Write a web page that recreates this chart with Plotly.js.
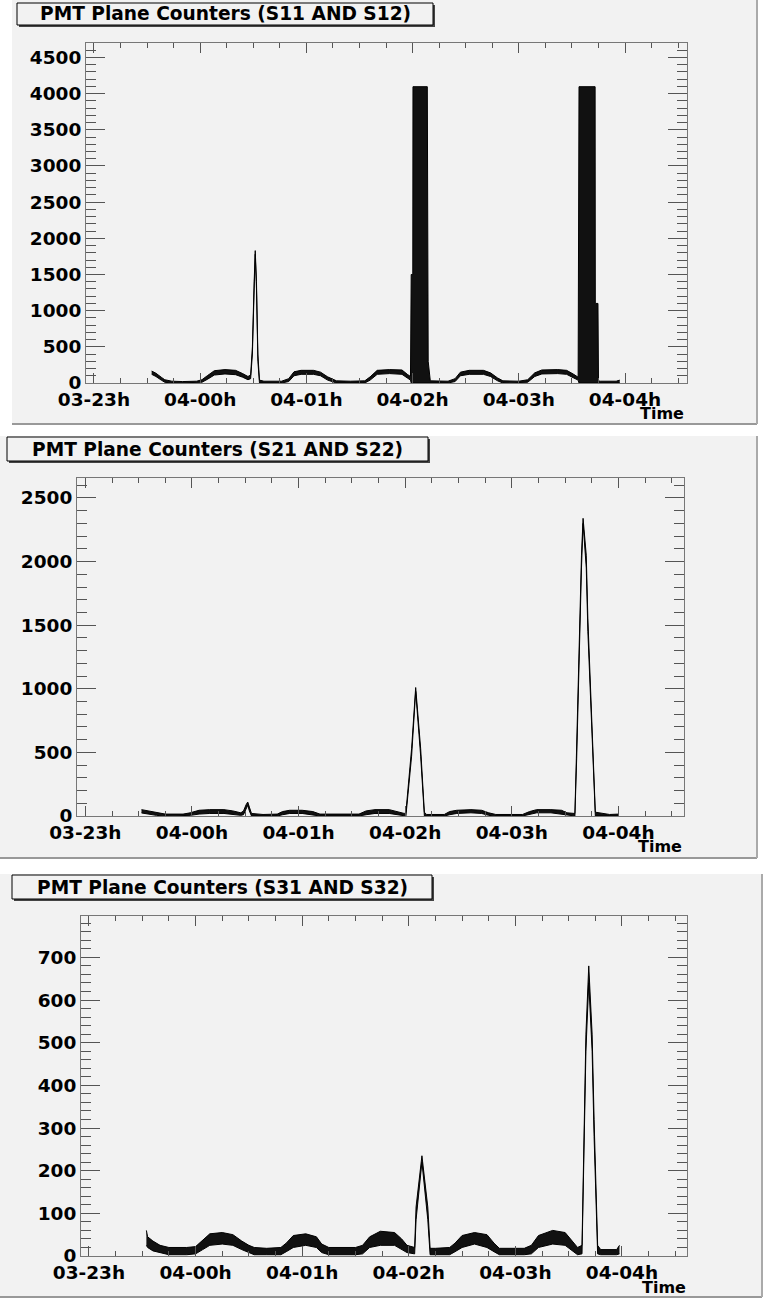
<!DOCTYPE html>
<html>
<head>
<meta charset="utf-8">
<script src="https://cdn.plot.ly/plotly-3.0.1.min.js"></script>
<style>
  body { margin: 0; background: #fff; }
  #graph { width: 763px; height: 1299px; }
</style>
</head>
<body>
<div id="graph"></div>
<script>
// time axis: minutes after 03-23h
// panel 1 : S11 AND S12 (saturates at 4096)
var p1Min = [32.6, 35, 38, 40, 44, 50, 58, 61, 64, 68, 74, 80, 84, 87, 88.5, 89.5, 90.5, 91.1, 91.8, 92.6, 93.5, 96, 106, 110, 113, 117, 124, 128, 132, 137, 145, 153, 156, 160, 167, 174, 177, 178.8, 179.2, 180.1, 180.2, 188.3, 188.8, 190, 200, 204, 207, 212, 220, 224, 228, 231, 240, 245, 249, 253, 262, 267, 271, 273.5, 274, 283.1, 283.2, 284.7, 285, 286, 295, 297];
var p1Lo  = [120, 90, 40, 10, 0, 0, 0, 10, 50, 110, 125, 115, 80, 45, 60, 400, 1300, 1780, 1300, 300, 0, 0, 0, 20, 100, 120, 120, 100, 40, 0, 0, 0, 40, 120, 130, 120, 70, 40, 0, 0, 0, 0, 0, 0, 0, 20, 100, 120, 120, 90, 30, 0, 0, 10, 90, 125, 130, 120, 70, 40, 0, 0, 0, 0, 0, 0, 0, 0];
var p1Hi  = [165, 135, 80, 45, 25, 20, 25, 45, 100, 170, 185, 175, 130, 90, 110, 500, 1400, 1830, 1400, 400, 40, 25, 25, 60, 155, 175, 175, 150, 85, 30, 25, 30, 85, 175, 185, 180, 120, 90, 1500, 1500, 4096, 4096, 300, 30, 25, 60, 150, 175, 175, 140, 70, 30, 25, 45, 140, 180, 185, 175, 120, 80, 4096, 4096, 1100, 1100, 30, 25, 25, 40];

// panel 2 : S21 AND S22
var p2Min = [31.6, 35, 40, 45, 55, 59, 64, 70, 78, 83, 87.5, 89, 90.5, 91.4, 92.3, 93.5, 100, 108, 111, 115, 122, 128, 132, 145, 154, 158, 163, 171, 176, 179.5, 180.4, 183.6, 185.9, 188.7, 190.8, 192, 202, 205, 209, 217, 223, 227, 231, 246, 250, 254, 262, 268, 271, 275.5, 276.5, 278.1, 279.2, 280.1, 281.9, 282.8, 285.5, 287, 295, 300];
var p2Lo  = [24, 15, 5, 0, 0, 5, 15, 20, 20, 15, 5, 10, 50, 85, 40, 0, 0, 0, 10, 20, 20, 10, 0, 0, 0, 10, 20, 20, 10, 0, 0, 470, 980, 470, 0, 0, 0, 10, 20, 25, 20, 5, 0, 0, 10, 25, 25, 15, 5, 0, 450, 1450, 1950, 2300, 1950, 1450, 450, 0, 0, 0];
var p2Hi  = [50, 40, 25, 15, 15, 25, 45, 50, 50, 40, 25, 40, 90, 110, 70, 20, 12, 15, 35, 45, 45, 35, 15, 12, 15, 40, 50, 50, 35, 20, 30, 530, 1010, 530, 30, 12, 12, 35, 45, 50, 45, 25, 12, 12, 35, 50, 50, 45, 25, 20, 550, 1550, 2050, 2340, 2050, 1550, 550, 30, 12, 15];

// panel 3 : S31 AND S32
var p3Min = [32.3, 33, 36, 40, 45, 55, 60, 64, 68, 75, 81, 86, 90, 93, 100, 108, 111, 115, 122, 128, 131, 135, 150, 154, 158, 164, 172, 176, 179, 183.3, 184.1, 187.4, 190.7, 192, 195, 203, 206, 210, 217, 224, 228, 231, 245, 249, 253, 261, 268, 272, 275, 277.5, 278.8, 279.7, 281.3, 283.2, 284.3, 286.3, 288, 297, 298.6];
var p3Lo  = [25, 20, 12, 8, 3, 3, 5, 15, 25, 28, 25, 15, 8, 3, 3, 3, 10, 20, 25, 20, 8, 3, 3, 5, 20, 25, 25, 15, 8, 5, 85, 220, 85, 3, 3, 3, 10, 20, 28, 20, 10, 3, 3, 5, 20, 28, 25, 12, 3, 5, 280, 480, 640, 480, 280, 5, 3, 3, 5];
var p3Hi  = [60, 45, 35, 25, 20, 20, 22, 38, 52, 55, 50, 35, 25, 20, 18, 20, 30, 48, 52, 45, 28, 20, 20, 25, 45, 58, 55, 40, 25, 20, 115, 235, 115, 18, 18, 20, 30, 48, 55, 50, 30, 18, 18, 25, 48, 60, 55, 35, 20, 25, 320, 520, 680, 520, 320, 25, 15, 15, 25];

var titles = ["PMT Plane Counters (S11 AND S12)", "PMT Plane Counters (S21 AND S22)", "PMT Plane Counters (S31 AND S32)"];
var yMax = [4700, 2657, 797];
var yMajor = [500, 500, 100];
var yMinor = [100, 100, 20];

var W = 763, H = 1299;
function px(x) { return x / W; }
function py(y) { return 1 - y / H; }

// minutes after 03-23h -> date string
function toDate(m) {
    var d = new Date(Date.UTC(2006, 6, 3, 23, 0, 0) + m * 60000);
    return d.toISOString().replace("T", " ").slice(0, 19);
}

var tickFont = {family: "DejaVu Sans", size: 18.5, weight: "bold", color: "#000"};
var bg = "#f2f2f2";

// pixel boxes of the three frames [left, right, top, bottom] and x range in minutes
var frames = [
    {l: 86, r: 687, t: 43, b: 383, x0: -4.5, x1: 335.0},
    {l: 77, r: 684, t: 478, b: 816, x0: -4.7, x1: 336.9},
    {l: 81, r: 687, t: 916, b: 1256, x0: -4.5, x1: 336.6}
];

var series = [[p1Min, p1Lo, p1Hi], [p2Min, p2Lo, p2Hi], [p3Min, p3Lo, p3Hi]];
var data = [];
var layout = {
    width: W, height: H,
    margin: {l: 0, r: 0, t: 0, b: 0},
    paper_bgcolor: "#fff",
    plot_bgcolor: bg,
    showlegend: false,
    shapes: [],
    annotations: []
};

series.forEach(function (s, i) {
    var n = i + 1;
    var xs = s[0].map(toDate);
    var xa = n === 1 ? "x" : "x" + n;
    var ya = n === 1 ? "y" : "y" + n;
    data.push({x: xs, y: s[1], xaxis: xa, yaxis: ya, type: "scatter", mode: "lines",
               line: {color: "#000", width: 1}, hoverinfo: "skip"});
    data.push({x: xs, y: s[2], xaxis: xa, yaxis: ya, type: "scatter", mode: "lines",
               fill: "tonexty", fillcolor: "#111", line: {color: "#000", width: 1}, hoverinfo: "skip"});

    var f = frames[i];
    layout["xaxis" + (n === 1 ? "" : n)] = {
        domain: [px(f.l), px(f.r)],
        anchor: ya,
        type: "date",
        range: [toDate(f.x0), toDate(f.x1)],
        tickformat: "%d-%Hh",
        tick0: toDate(0), dtick: 3600000,
        ticks: "inside", ticklen: 10, tickcolor: "#555", tickwidth: 1,
        minor: {tick0: toDate(0), dtick: 900000, ticks: "inside", ticklen: 5, tickcolor: "#555", showgrid: false},
        showline: true, linecolor: "#777", linewidth: 1, mirror: "allticks",
        showgrid: false, zeroline: false,
        tickfont: tickFont
    };
    layout["yaxis" + (n === 1 ? "" : n)] = {
        domain: [py(f.b), py(f.t)],
        anchor: xa,
        range: [0, yMax[i]],
        tick0: 0, dtick: yMajor[i],
        ticks: "inside", ticklen: 19, tickcolor: "#555", tickwidth: 1,
        minor: {dtick: yMinor[i], ticks: "inside", ticklen: 10, tickcolor: "#555", showgrid: false},
        showline: true, linecolor: "#777", linewidth: 1, mirror: "allticks",
        showgrid: false, zeroline: false,
        tickfont: tickFont
    };
});

// canvas pads: [left, right, top, bottom]
var pads = [[12, 757, 0, 424], [0, 757, 436, 858], [0, 762, 874, 1297]];
pads.forEach(function (p) {
    layout.shapes.push({type: "rect", xref: "paper", yref: "paper", layer: "below",
        x0: px(p[0]), x1: px(p[1]), y0: py(p[3]), y1: py(p[2]), fillcolor: bg, line: {width: 0}});
    layout.shapes.push({type: "line", xref: "paper", yref: "paper",
        x0: px(p[0]), x1: px(p[1]), y0: py(p[3]), y1: py(p[3]), line: {color: "#999", width: 2}});
    layout.shapes.push({type: "line", xref: "paper", yref: "paper",
        x0: px(p[1]), x1: px(p[1]), y0: py(p[3]), y1: py(p[2]), line: {color: "#aaa", width: 2}});
});

// title boxes [left, right, top, bottom]
var tboxes = [[17, 433, 3, 25], [7, 428, 437, 461], [12, 432, 875, 899]];
tboxes.forEach(function (b, i) {
    layout.shapes.push({type: "rect", xref: "paper", yref: "paper",
        x0: px(b[0] + 2), x1: px(b[1] + 2), y0: py(b[3] + 2), y1: py(b[2] + 2),
        fillcolor: "#444", line: {width: 0}});
    layout.shapes.push({type: "rect", xref: "paper", yref: "paper",
        x0: px(b[0]), x1: px(b[1]), y0: py(b[3]), y1: py(b[2]),
        fillcolor: bg, line: {color: "#000", width: 1}});
    layout.annotations.push({xref: "paper", yref: "paper", x: px((b[0] + b[1]) / 2), y: py((b[2] + b[3]) / 2),
        text: titles[i], showarrow: false, xanchor: "center", yanchor: "middle",
        font: {family: "DejaVu Sans", size: 18.6, weight: "bold", color: "#000"}});
});

// "Time" axis labels
var timePos = [[686, 413], [684, 846], [688, 1287]];
timePos.forEach(function (t) {
    layout.annotations.push({xref: "paper", yref: "paper", x: px(t[0]), y: py(t[1]),
        text: "Time", showarrow: false, xanchor: "right", yanchor: "middle",
        font: {family: "DejaVu Sans", size: 16, weight: "bold", color: "#000"}});
});

Plotly.newPlot("graph", data, layout, {staticPlot: true});
</script>
</body>
</html>
